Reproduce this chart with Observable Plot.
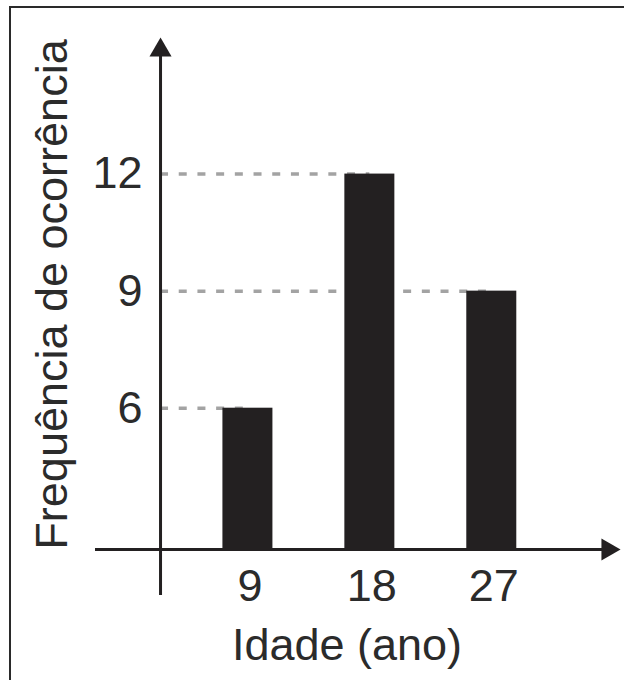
<!DOCTYPE html>
<html>
<head>
<meta charset="utf-8">
<script src="https://cdn.jsdelivr.net/npm/d3@7"></script>
<script src="https://cdn.jsdelivr.net/npm/@observablehq/plot@0.6"></script>
<style>
  html, body { margin: 0; padding: 0; background: #fff; }
  #wrap { position: relative; width: 624px; height: 680px; overflow: hidden; }
  #border { position: absolute; left: 9px; top: 6px; width: 700px; height: 760px;
            border-left: 2px solid #2a2a2a; border-top: 2px solid #2a2a2a; box-sizing: border-box; }
  #chart { position: absolute; left: 0; top: 0; }
  svg { overflow: visible; }
</style>
</head>
<body>
<div id="wrap"><div id="border"></div><div id="chart"></div></div>
<script>
// Data
const ages = [9, 18, 27];            // Idade (ano)
const frequencies = [6, 12, 9];      // Frequência de ocorrência
const yTickValues = [6, 9, 12];
const xTickValues = [9, 18, 27];
const xTitle = "Idade (ano)";
const yTitle = "Frequência de ocorrência";

// Broken-axis extents (data units) of the drawn axes
const xAxisExtent = [-2.25, 36.5];
const yAxisExtent = [1.2, 15.5];
const origin = {x: 2.55, y: 2.38};

const data = ages.map((a, i) => ({age: a, freq: frequencies[i]}));

const ink = "#232021";
const textColor = "#2b2b2b";
const font = "'Liberation Sans', Arial, Helvetica, sans-serif";

const s3 = Math.sqrt(3);
const triangleRight = {
  draw(ctx, size) {
    const y = -Math.sqrt(size / (s3 * 3));
    ctx.moveTo(-2 * y, 0);
    ctx.lineTo(y, -s3 * y);
    ctx.lineTo(y, s3 * y);
    ctx.closePath();
  }
};
const triangleUp = {
  draw(ctx, size) {
    const y = -Math.sqrt(size / (s3 * 3));
    ctx.moveTo(0, 2 * y);
    ctx.lineTo(-s3 * y, -y);
    ctx.lineTo(s3 * y, -y);
    ctx.closePath();
  }
};

const chart = Plot.plot({
  width: 624,
  height: 680,
  marginTop: 37,
  marginBottom: 85,
  marginLeft: 95,
  marginRight: 4,
  style: {fontFamily: font, background: "transparent", overflow: "visible"},
  x: {type: "linear", domain: xAxisExtent, axis: null},
  y: {type: "linear", domain: yAxisExtent, axis: null},
  marks: [
    // dashed reference lines
    Plot.ruleY(data, {y: "freq", x1: origin.x, x2: "age", stroke: "#a3a3a3", strokeWidth: 3.5, strokeDasharray: "8,10.7"}),
    // bars
    Plot.rect(data, {x1: "age", x2: "age", y1: origin.y, y2: "freq", insetLeft: -25, insetRight: -25, fill: ink}),
    // axes
    Plot.ruleY([origin.y], {stroke: ink, strokeWidth: 3, insetRight: 14}),
    Plot.ruleX([origin.x], {stroke: ink, strokeWidth: 3, insetTop: 14}),
    // arrow heads
    Plot.dot([{x: origin.x, y: yAxisExtent[1]}], {x: "x", y: "y", symbol: triangleUp, r: 8.2, fill: ink, stroke: "none", dy: 12.7}),
    Plot.dot([{x: xAxisExtent[1], y: origin.y}], {x: "x", y: "y", symbol: triangleRight, r: 8.2, fill: ink, stroke: "none", dx: -12.7}),
    // tick labels
    Plot.text(yTickValues, {x: origin.x, y: d => d, text: d => String(d), textAnchor: "end", dx: -18, fontSize: 45, fill: textColor}),
    Plot.text(xTickValues, {x: d => d, y: origin.y, text: d => String(d), dy: 37, dx: 2, fontSize: 45, fill: textColor}),
    // axis titles
    Plot.text([xTitle], {frameAnchor: "bottom", text: d => d, textAnchor: "middle", lineAnchor: "middle", dy: 50, dx: -11, fontSize: 45, fill: textColor}),
    Plot.text([yTitle], {frameAnchor: "left", text: d => d, textAnchor: "middle", lineAnchor: "middle", rotate: -90, dx: -42.5, dy: -22, fontSize: 45, fill: textColor})
  ]
});
document.getElementById("chart").appendChild(chart);
</script>
</body>
</html>
